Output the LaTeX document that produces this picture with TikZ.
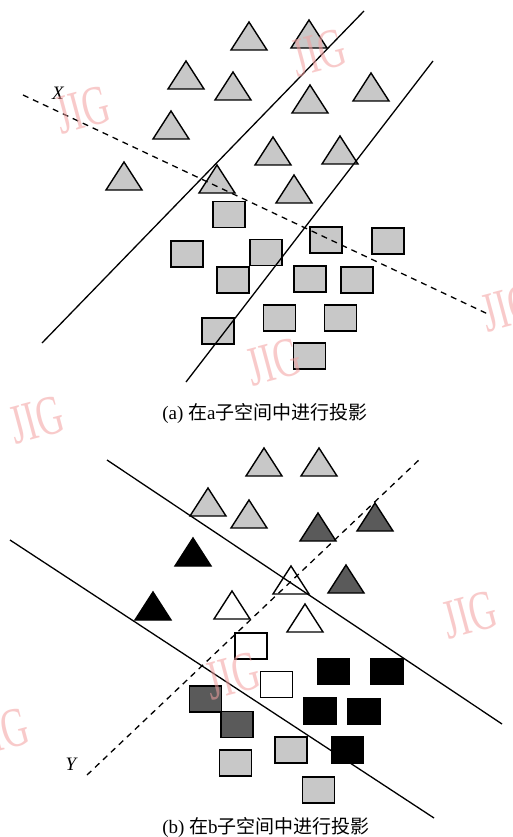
\documentclass[tikz,border=0pt]{standalone}
\usepackage{fontspec}
\setmainfont{Liberation Serif}
\newfontfamily\cjkfont{Noto Sans CJK SC}
\definecolor{lgray}{HTML}{C8C8C8}
\definecolor{dgray}{HTML}{5A5A5A}
\definecolor{wmpink}{HTML}{F4A0A0}
\tikzset{
  shapeline/.style={draw=black, line width=1.4pt, line join=miter},
  pics/tri/.style={code={\draw[shapeline, fill=#1] (0,0) -- (18,28) -- (-18,28) -- cycle;}},
  sq/.style={shapeline, rectangle, minimum width=32pt, minimum height=26pt, inner sep=0pt, outer sep=0pt},
  sepline/.style={line width=1.3pt},
  projline/.style={line width=1.3pt, dashed, dash pattern=on 6pt off 5pt},
  axlabel/.style={font=\fontsize{19}{19}\selectfont\itshape, inner sep=0pt},
  caption/.style={font=\fontsize{19}{19}\selectfont, inner sep=0pt},
  wm/.style={font=\fontsize{56}{56}\selectfont, text=wmpink, opacity=0.55, inner sep=0pt, rotate=15, xscale=0.66},
}
\begin{document}
\begin{tikzpicture}[x=1pt, y=-1pt]
\useasboundingbox (0,0) rectangle (513,837);
\fill[white] (0,0) rectangle (513,837);

% ---------------- panel (a) ----------------
\pic (ta1) at (249,22) {tri=lgray};
\pic (ta2) at (309,20) {tri=lgray};
\pic (ta3) at (186,61) {tri=lgray};
\pic (ta4) at (233,72) {tri=lgray};
\pic (ta5) at (310,85) {tri=lgray};
\pic (ta6) at (371,73) {tri=lgray};
\pic (ta7) at (171,111) {tri=lgray};
\pic (ta8) at (273,137) {tri=lgray};
\pic (ta9) at (340,136) {tri=lgray};
\pic (ta10) at (124,162) {tri=lgray};
\pic (ta11) at (217,165) {tri=lgray};
\pic (ta12) at (294,175) {tri=lgray};

\node[sq, fill=lgray] (sa1) at (229,214.5) {};
\node[sq, fill=lgray] (sa2) at (187,254) {};
\node[sq, fill=lgray] (sa3) at (266,252.5) {};
\node[sq, fill=lgray] (sa4) at (326,240) {};
\node[sq, fill=lgray] (sa5) at (388,241) {};
\node[sq, fill=lgray] (sa6) at (233,280) {};
\node[sq, fill=lgray] (sa7) at (310,279) {};
\node[sq, fill=lgray] (sa8) at (357,280) {};
\node[sq, fill=lgray] (sa9) at (279.5,318) {};
\node[sq, fill=lgray] (sa10) at (340.5,318) {};
\node[sq, fill=lgray] (sa11) at (218,331) {};
\node[sq, fill=lgray] (sa12) at (309.5,356) {};

\coordinate (l1a) at (42,343);
\coordinate (l1b) at (364,11);
\coordinate (l2a) at (186,382);
\coordinate (l2b) at (433,61);
\coordinate (xa) at (23,95);
\coordinate (xb) at (490,315);
\draw[sepline] (l1a) -- (l1b);
\draw[sepline] (l2a) -- (l2b);
\draw[projline] (xa) -- (xb);
\node[axlabel] (xlab) at (58,93) {X};

\node[caption] (capa) at (265,413) {(a) {\cjkfont 在}a{\cjkfont 子空间中进行投影}};

% ---------------- panel (b) ----------------
\pic (tb1) at (264,448) {tri=lgray};
\pic (tb2) at (319,448) {tri=lgray};
\pic (tb3) at (208,488) {tri=lgray};
\pic (tb4) at (249,500) {tri=lgray};
\pic (tb5) at (318,513) {tri=dgray};
\pic (tb6) at (375,503) {tri=dgray};
\pic (tb7) at (193,538) {tri=black};
\pic (tb8) at (291,566) {tri=white};
\pic (tb9) at (346,565) {tri=dgray};
\pic (tb10) at (153,592) {tri=black};
\pic (tb11) at (232,591) {tri=white};
\pic (tb12) at (305,604) {tri=white};

\node[sq, fill=white] (sb1) at (251,646) {};
\node[sq, fill=white] (sb2) at (276.5,684.5) {};
\node[sq, fill=black] (sb3) at (333.5,671.5) {};
\node[sq, fill=black] (sb4) at (387,671.5) {};
\node[sq, fill=dgray] (sb5) at (205.5,699) {};
\node[sq, fill=black] (sb6) at (320,711) {};
\node[sq, fill=black] (sb7) at (364,711.5) {};
\node[sq, fill=dgray] (sb8) at (237,724.5) {};
\node[sq, fill=lgray] (sb9) at (291,750) {};
\node[sq, fill=black] (sb10) at (347.5,750) {};
\node[sq, fill=lgray] (sb11) at (235.5,763) {};
\node[sq, fill=lgray] (sb12) at (318.5,790) {};

\coordinate (l3a) at (107,460);
\coordinate (l3b) at (502,724);
\coordinate (l4a) at (10,540);
\coordinate (l4b) at (434,818);
\coordinate (ya) at (87,775);
\coordinate (yb) at (421,458);
\draw[sepline] (l3a) -- (l3b);
\draw[sepline] (l4a) -- (l4b);
\draw[projline] (ya) -- (yb);
\node[axlabel] (ylab) at (71,764) {Y};

\node[caption] (capb) at (266,827) {(b) {\cjkfont 在}b{\cjkfont 子空间中进行投影}};

% ---------------- watermarks ----------------
\node[wm] (w1) at (319,53) {JIG};
\node[wm] (w2) at (83,110) {JIG};
\node[wm] (w3) at (274,362) {JIG};
\node[wm] (w4) at (509,308) {JIG};
\node[wm] (w5) at (37,420) {JIG};
\node[wm] (w6) at (470,615) {JIG};
\node[wm] (w7) at (233,676) {JIG};
\node[wm] (w8) at (2,732) {JIG};
\end{tikzpicture}
\end{document}
